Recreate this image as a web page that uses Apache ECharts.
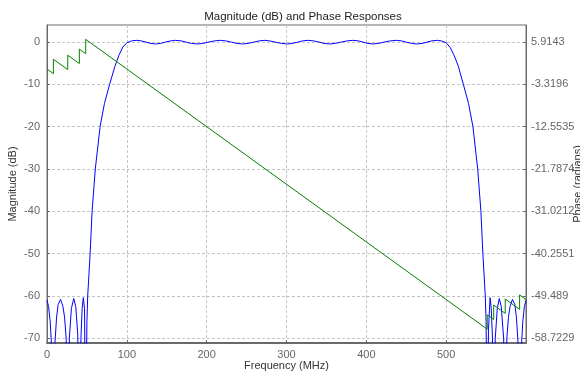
<!DOCTYPE html>
<html><head><meta charset="utf-8">
<script src="https://cdn.jsdelivr.net/npm/echarts@6/dist/echarts.min.js"></script>
<style>html,body{margin:0;padding:0;background:#fff}#c{width:580px;height:372px}</style>
</head><body><div id="c"></div>
<script>
// ---- data ----
const xTicks = [0, 100, 200, 300, 400, 500];
const magTicks = [-70, -60, -50, -40, -30, -20, -10, 0];
const phaseTickLabels = ['5.9143', '-3.3196', '-12.5535', '-21.7874', '-31.0212', '-40.2551', '-49.489', '-58.7229'];

const magFreq = [
  0, 2, 4, 6, 8, 10, 12, 14, 17, 20, 22, 24, 26, 28, 30.5, 33.5, 36, 38.5, 40.5, 42.5, 44, 45.5, 47, 48.5,
  50, 51, 52.5, 54, 56.5, 60.5, 66.5, 72, 78.5, 85, 90, 95, 100, 106,
  112, 118, 124, 130, 136, 142, 148, 155, 161, 168, 174.5, 181, 188, 195, 202, 210, 217, 224, 231, 238, 245,
  252, 259, 266, 272, 279, 286, 294, 301, 307, 314, 320, 327, 334, 341, 347, 354, 361, 368, 376, 383, 390,
  396, 402, 408, 415, 422, 430, 438, 444, 450, 457, 463, 470, 476, 482, 489, 494,
  500, 505, 510, 515, 521.5, 528, 533.5, 539.5, 543.5, 546, 547.5, 549, 550, 551.5,
  553, 555, 556.5, 558, 559.5, 561.5, 564, 566.5, 569, 572, 574, 576, 578, 580, 583, 586, 588, 590, 592, 594, 596, 598, 600
];
const magDb = [
  -61, -62.5, -66, -73, -95, -71, -65, -62, -60.8, -62.5, -65, -70, -95, -70, -63, -60.6, -62.5, -69, -95, -70, -63, -60.4, -63, -95,
  -66, -60, -55, -50, -40, -30, -20, -14.5, -10, -5.8, -3.2, -1.2, -0.2, 0.25,
  0.38, 0.25, -0.05, -0.35, -0.48, -0.35, -0.05, 0.25, 0.38, 0.25, -0.05, -0.35, -0.48, -0.35, -0.05, 0.25, 0.38, 0.25, -0.05, -0.35, -0.48,
  -0.35, -0.05, 0.25, 0.38, 0.25, -0.05, -0.35, -0.48, -0.35, -0.05, 0.25, 0.38, 0.25, -0.05, -0.35, -0.48, -0.35, -0.05, 0.25, 0.38, 0.25,
  -0.05, -0.35, -0.48, -0.35, -0.05, 0.25, 0.38, 0.25, -0.05, -0.35, -0.48, -0.35, -0.05, 0.25, 0.38, 0.25,
  -0.2, -1.3, -3.2, -5.6, -10, -14.5, -20, -30, -40, -50, -55, -60, -66, -95,
  -68, -60.4, -63, -70, -95, -70, -63, -60.6, -62.5, -70, -95, -70, -65, -62.5, -60.8, -62, -65, -71, -95, -73, -66, -62.5, -61
];

const phaseFreq = [0, 8, 8, 26, 26, 40.5, 40.5, 48.5, 48.5, 551.5, 551.5, 559.5, 559.5, 574, 574, 592, 592, 600];
const phaseRad  = [0, -1.0, 2.14, -0.12, 3.02, 1.2, 4.34, 3.34, 6.48, -56.73, -53.59, -54.6, -51.46, -53.28, -50.14, -52.4, -49.26, -50.27];

// ---- axis alignment (right axis is a linear map of the left one) ----
const magMin = -71.1, magMax = 4.0;
const phaseTicks = phaseTickLabels.map(Number);
const k = (phaseTicks[0] - phaseTicks[phaseTicks.length - 1]) / (magTicks[magTicks.length - 1] - magTicks[0]);
const toPhase = v => phaseTicks[0] + k * (v - magTicks[magTicks.length - 1]);
const phaseMin = toPhase(magMin), phaseMax = toPhase(magMax);

const FONT = 'Liberation Sans, Arial, sans-serif';
const axisCol = '#6a6a6a', labCol = '#666', nameCol = '#333';
const gridLine = { show: true, lineStyle: { color: '#c4c4c4', type: [3, 2], width: 1 } };

const chart = echarts.init(document.getElementById('c'), null, { renderer: 'canvas' });
chart.setOption({
  animation: false,
  backgroundColor: '#fff',
  title: {
    text: 'Magnitude (dB) and Phase Responses',
    left: 298, top: 6, textAlign: 'center',
    textStyle: { fontFamily: FONT, fontSize: 11.5, fontWeight: 'normal', color: '#222' }
  },
  grid: {
    left: 47, right: 54, top: 25, bottom: 29, containLabel: false, outerBoundsMode: 'none',
    show: true, borderColor: axisCol, borderWidth: 1, backgroundColor: '#fff'
  },
  xAxis: {
    type: 'value', min: 0, max: 600,
    name: 'Frequency (MHz)', nameLocation: 'middle', nameGap: 17, nameMoveOverlap: false,
    nameTextStyle: { fontFamily: FONT, fontSize: 11, color: nameCol },
    axisLine: { show: true, onZero: false, lineStyle: { color: axisCol, width: 2 } },
    axisTick: { show: true, inside: true, length: 3, customValues: xTicks, lineStyle: { color: axisCol } },
    axisLabel: { customValues: xTicks, fontFamily: FONT, fontSize: 11, color: labCol, margin: 6 },
    splitLine: gridLine
  },
  yAxis: [
    {
      type: 'value', min: magMin, max: magMax, position: 'left',
      name: 'Magnitude (dB)', nameLocation: 'middle', nameGap: 29, nameRotate: 90, nameMoveOverlap: false,
      nameTextStyle: { fontFamily: FONT, fontSize: 11, color: nameCol },
      axisLine: { show: true, onZero: false, lineStyle: { color: axisCol, width: 1 } },
      axisTick: { show: true, inside: true, length: 3, customValues: magTicks, lineStyle: { color: axisCol } },
      axisLabel: { customValues: magTicks, fontFamily: FONT, fontSize: 11, color: labCol, margin: 7 },
      splitLine: gridLine
    },
    {
      type: 'value', min: phaseMin, max: phaseMax, position: 'right',
      name: 'Phase (radians)', nameLocation: 'middle', nameGap: 46, nameRotate: 90, nameMoveOverlap: false,
      nameTextStyle: { fontFamily: FONT, fontSize: 11, color: nameCol },
      axisLine: { show: true, onZero: false, lineStyle: { color: axisCol, width: 1 } },
      axisTick: { show: true, inside: true, length: 3, customValues: phaseTicks, lineStyle: { color: axisCol } },
      axisLabel: {
        customValues: phaseTicks, fontFamily: FONT, fontSize: 11, color: labCol, margin: 5,
        formatter: v => String(Number(v.toFixed(4)))
      },
      splitLine: { show: false }
    }
  ],
  series: [
    {
      type: 'line', yAxisIndex: 0, showSymbol: false, clip: true,
      lineStyle: { color: '#0000ff', width: 1 },
      data: magFreq.map((f, i) => [f, magDb[i]])
    },
    {
      type: 'line', yAxisIndex: 1, showSymbol: false, clip: true,
      lineStyle: { color: '#008000', width: 1 },
      data: phaseFreq.map((f, i) => [f, phaseRad[i]])
    }
  ]
});
</script>
</body></html>
